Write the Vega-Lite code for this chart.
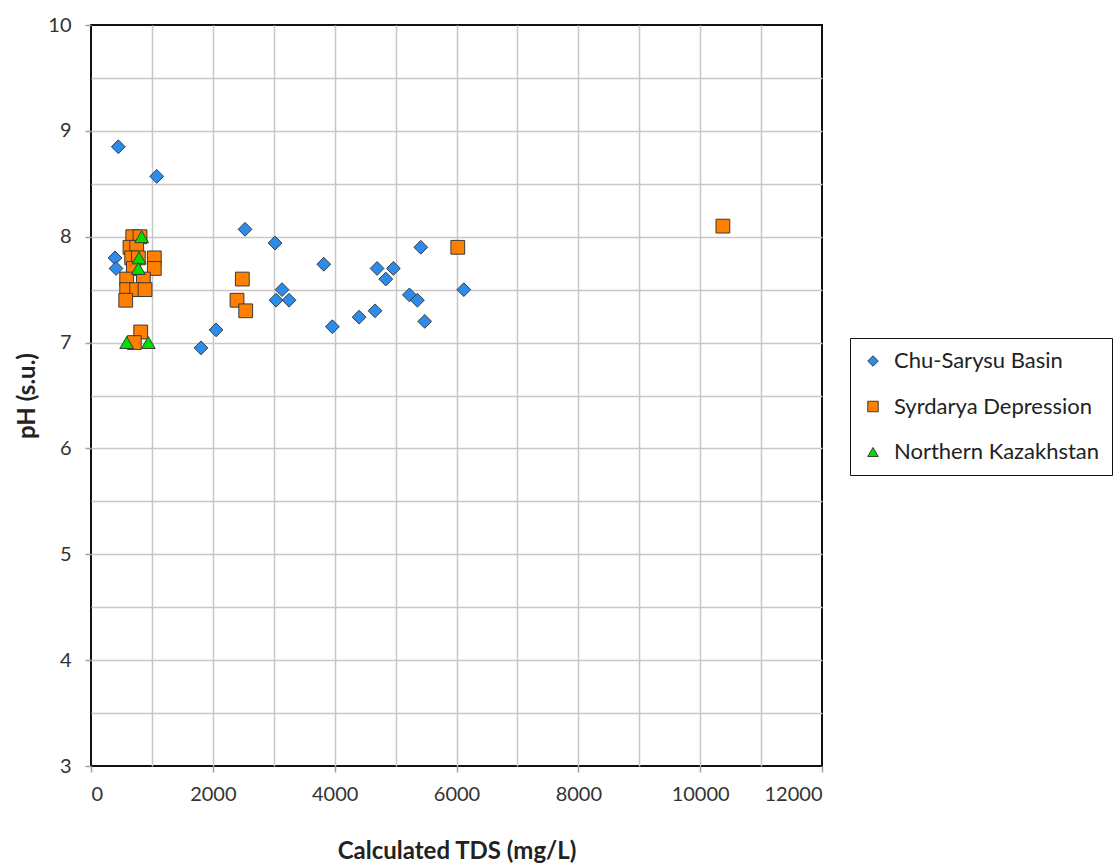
{
  "$schema": "https://vega.github.io/schema/vega-lite/v6.json",
  "autosize": {"type": "none"},
  "width": 731,
  "height": 741,
  "padding": {"left": 91, "top": 25, "right": 297, "bottom": 100},
  "background": "white",
  "config": {
    "view": {"stroke": "#111111", "strokeWidth": 2},
    "font": "Lato"
  },
  "data": {
    "values": [
      {"tds": 448, "ph": 8.85, "region": "Chu-Sarysu Basin"},
      {"tds": 1079, "ph": 8.57, "region": "Chu-Sarysu Basin"},
      {"tds": 394, "ph": 7.80, "region": "Chu-Sarysu Basin"},
      {"tds": 411, "ph": 7.70, "region": "Chu-Sarysu Basin"},
      {"tds": 2529, "ph": 8.07, "region": "Chu-Sarysu Basin"},
      {"tds": 3021, "ph": 7.94, "region": "Chu-Sarysu Basin"},
      {"tds": 2053, "ph": 7.12, "region": "Chu-Sarysu Basin"},
      {"tds": 1806, "ph": 6.95, "region": "Chu-Sarysu Basin"},
      {"tds": 3136, "ph": 7.50, "region": "Chu-Sarysu Basin"},
      {"tds": 3038, "ph": 7.40, "region": "Chu-Sarysu Basin"},
      {"tds": 3251, "ph": 7.40, "region": "Chu-Sarysu Basin"},
      {"tds": 3821, "ph": 7.74, "region": "Chu-Sarysu Basin"},
      {"tds": 3962, "ph": 7.15, "region": "Chu-Sarysu Basin"},
      {"tds": 4401, "ph": 7.24, "region": "Chu-Sarysu Basin"},
      {"tds": 4663, "ph": 7.30, "region": "Chu-Sarysu Basin"},
      {"tds": 4696, "ph": 7.70, "region": "Chu-Sarysu Basin"},
      {"tds": 4964, "ph": 7.70, "region": "Chu-Sarysu Basin"},
      {"tds": 4839, "ph": 7.60, "region": "Chu-Sarysu Basin"},
      {"tds": 5414, "ph": 7.90, "region": "Chu-Sarysu Basin"},
      {"tds": 5227, "ph": 7.45, "region": "Chu-Sarysu Basin"},
      {"tds": 5358, "ph": 7.40, "region": "Chu-Sarysu Basin"},
      {"tds": 5479, "ph": 7.20, "region": "Chu-Sarysu Basin"},
      {"tds": 6120, "ph": 7.50, "region": "Chu-Sarysu Basin"},
      {"tds": 685, "ph": 8.0, "region": "Syrdarya Depression"},
      {"tds": 805, "ph": 8.0, "region": "Syrdarya Depression"},
      {"tds": 640, "ph": 7.9, "region": "Syrdarya Depression"},
      {"tds": 750, "ph": 7.9, "region": "Syrdarya Depression"},
      {"tds": 668, "ph": 7.8, "region": "Syrdarya Depression"},
      {"tds": 777, "ph": 7.8, "region": "Syrdarya Depression"},
      {"tds": 1039, "ph": 7.8, "region": "Syrdarya Depression"},
      {"tds": 695, "ph": 7.7, "region": "Syrdarya Depression"},
      {"tds": 1039, "ph": 7.7, "region": "Syrdarya Depression"},
      {"tds": 586, "ph": 7.6, "region": "Syrdarya Depression"},
      {"tds": 860, "ph": 7.6, "region": "Syrdarya Depression"},
      {"tds": 586, "ph": 7.5, "region": "Syrdarya Depression"},
      {"tds": 750, "ph": 7.5, "region": "Syrdarya Depression"},
      {"tds": 887, "ph": 7.5, "region": "Syrdarya Depression"},
      {"tds": 570, "ph": 7.4, "region": "Syrdarya Depression"},
      {"tds": 816, "ph": 7.1, "region": "Syrdarya Depression"},
      {"tds": 711, "ph": 7.0, "region": "Syrdarya Depression"},
      {"tds": 2484, "ph": 7.6, "region": "Syrdarya Depression"},
      {"tds": 2397, "ph": 7.4, "region": "Syrdarya Depression"},
      {"tds": 2540, "ph": 7.3, "region": "Syrdarya Depression"},
      {"tds": 6021, "ph": 7.9, "region": "Syrdarya Depression"},
      {"tds": 10373, "ph": 8.1, "region": "Syrdarya Depression"},
      {"tds": 831, "ph": 8.0, "region": "Northern Kazakhstan"},
      {"tds": 788, "ph": 7.8, "region": "Northern Kazakhstan"},
      {"tds": 777, "ph": 7.7, "region": "Northern Kazakhstan"},
      {"tds": 586, "ph": 7.0, "region": "Northern Kazakhstan"},
      {"tds": 941, "ph": 7.0, "region": "Northern Kazakhstan"}
    ]
  },
  "mark": {"type": "point", "filled": true, "size": 190, "stroke": "#3a3a3a", "strokeWidth": 1, "opacity": 1},
  "encoding": {
    "x": {
      "field": "tds", "type": "quantitative",
      "scale": {"domain": [0, 12000], "nice": false, "zero": false},
      "axis": {
        "values": [0, 1000, 2000, 3000, 4000, 5000, 6000, 7000, 8000, 9000, 10000, 11000, 12000],
        "labelExpr": "datum.value % 2000 === 0 ? format(datum.value, 'd') : ''",
        "grid": true,
        "gridColor": "#c8c8c8",
        "gridWidth": 1.5,
        "gridOpacity": {"condition": {"test": "datum.value === 0 || datum.value === 12000", "value": 0}, "value": 1},
        "domain": false,
        "ticks": true,
        "tickColor": "#a0a0a0",
        "tickSize": 6,
        "tickWidth": 1.5,
        "tickOpacity": {"condition": {"test": "datum.value % 2000 === 0", "value": 1}, "value": 0},
        "labelFont": "Lato",
        "labelFontSize": 20,
        "labelColor": "#333333",
        "labelPadding": 12,
        "title": "Calculated TDS (mg/L)",
        "titleFont": "Lato",
        "titleFontSize": 24,
        "titleFontWeight": "bold",
        "titleColor": "#222222",
        "titlePadding": 35
      }
    },
    "y": {
      "field": "ph", "type": "quantitative",
      "scale": {"domain": [3, 10], "nice": false, "zero": false},
      "axis": {
        "values": [3, 3.5, 4, 4.5, 5, 5.5, 6, 6.5, 7, 7.5, 8, 8.5, 9, 9.5, 10],
        "labelExpr": "datum.value % 1 === 0 ? format(datum.value, 'd') : ''",
        "grid": true,
        "gridColor": "#c8c8c8",
        "gridWidth": 1.5,
        "gridOpacity": {"condition": {"test": "datum.value === 3 || datum.value === 10", "value": 0}, "value": 1},
        "domain": false,
        "ticks": true,
        "tickColor": "#a0a0a0",
        "tickSize": 6,
        "tickWidth": 1.5,
        "tickOpacity": {"condition": {"test": "datum.value % 1 === 0", "value": 1}, "value": 0},
        "labelFont": "Lato",
        "labelFontSize": 20,
        "labelColor": "#333333",
        "labelPadding": 14,
        "title": "pH (s.u.)",
        "titleFont": "Lato",
        "titleFontSize": 24,
        "titleFontWeight": "bold",
        "titleColor": "#222222",
        "titlePadding": 8
      }
    },
    "fill": {
      "field": "region", "type": "nominal",
      "scale": {
        "domain": ["Chu-Sarysu Basin", "Syrdarya Depression", "Northern Kazakhstan"],
        "range": ["#2b8cec", "#ff8000", "#00e000"]
      },
      "legend": {
        "orient": "none", "legendX": 759, "legendY": 313, "title": null,
        "strokeColor": "#111111", "fillColor": "white", "padding": 12,
        "rowPadding": 23.5, "labelFont": "Lato", "labelFontSize": 22, "labelColor": "#222222",
        "labelLimit": 0,
        "symbolSize": 110, "symbolStrokeColor": "#3a3a3a", "symbolStrokeWidth": 1,
        "labelOffset": 10, "symbolOpacity": 1
      }
    },
    "shape": {
      "field": "region", "type": "nominal",
      "scale": {
        "domain": ["Chu-Sarysu Basin", "Syrdarya Depression", "Northern Kazakhstan"],
        "range": ["diamond", "square", "triangle-up"]
      },
      "legend": {
        "orient": "none", "legendX": 759, "legendY": 313, "title": null
      }
    }
  }
}
